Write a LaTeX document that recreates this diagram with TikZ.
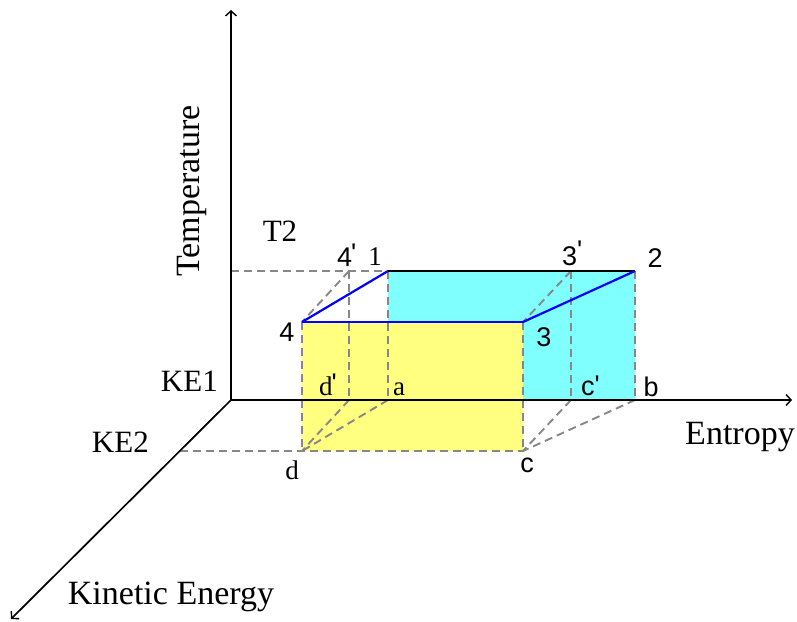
\documentclass[tikz,border=0pt]{standalone}
\usepackage{fontspec}
\setmainfont{Liberation Serif}
\newfontfamily\lsans{Liberation Sans}
\usetikzlibrary{arrows.meta}
\definecolor{cyanfill}{RGB}{128,255,255}
\definecolor{yelfill}{RGB}{255,255,128}
\definecolor{dashgray}{RGB}{135,135,135}
\newcommand\primemark[2]{\kern#1\raisebox{#2}{\lsans\char"0027}}
\begin{document}
\begin{tikzpicture}[x=1pt,y=-1pt,
  axis/.style={line width=1.7pt,-{Straight Barb[length=5pt,width=11pt,line width=1.4pt]}},
  dsh/.style={draw=dashgray,line width=1.9pt,dash pattern=on 8pt off 5pt},
  blu/.style={draw=blue,line width=2.2pt},
  edge12/.style={draw=black,line width=2.2pt},
  big/.style={inner sep=0pt,font=\fontsize{34}{36}\selectfont},
  mid/.style={inner sep=0pt,font=\fontsize{31}{34}\selectfont},
  pser/.style={inner sep=0pt,font=\fontsize{27}{30}\selectfont},
  psan/.style={inner sep=0pt,font=\lsans\fontsize{27}{30}\selectfont}]
\useasboundingbox (0,0) rectangle (797,621);
% coordinates
\coordinate (O) at (231,400);
\coordinate (Ty) at (231,10);
\coordinate (Ex) at (792,400);
\coordinate (Kx) at (11,619);
\coordinate (P1) at (388,271);
\coordinate (P2) at (635,271);
\coordinate (P3) at (523,322);
\coordinate (P4) at (302,322);
\coordinate (Pa) at (388,400);
\coordinate (Pb) at (635,400);
\coordinate (Pc) at (523,451);
\coordinate (Pd) at (302,451);
\coordinate (P4p) at (349,271);
\coordinate (P3p) at (571,271);
\coordinate (Pdp) at (349,400);
\coordinate (Pcp) at (571,400);
\coordinate (T2c) at (231,271);
\coordinate (K2c) at (180,451);
% fills
\fill[cyanfill] (P1) rectangle (Pb);
\fill[yelfill] (P4) rectangle (Pc);
% dashed guide lines
\draw[dsh] (T2c) -- (P1);
\draw[dsh] (K2c) -- (Pc);
\draw[dsh] (P4) -- (Pd);
\draw[dsh] (P3) -- (Pc);
\draw[dsh] (P1) -- (Pa);
\draw[dsh] (P2) -- (Pb);
\draw[dsh] (P4p) -- (Pdp);
\draw[dsh] (P3p) -- (Pcp);
\draw[dsh] (P4p) -- (P4);
\draw[dsh] (P3p) -- (P3);
\draw[dsh] (Pdp) -- (Pd);
\draw[dsh] (Pa) -- (Pd);
\draw[dsh] (Pcp) -- (Pc);
\draw[dsh] (Pb) -- (Pc);
% axes
\draw[axis] (O) -- (Ty);
\draw[axis] (O) -- (Ex);
\draw[axis] (O) -- (Kx);
% solid edges
\draw[edge12] (P1) -- (P2);
\draw[blu] (P4) -- (P1);
\draw[blu] (P4) -- (P3);
\draw[blu] (P3) -- (P2);
% labels
\node[big,rotate=90] (temp) at (192,191) {Temperature};
\node[big] (entropy) at (740,437) {Entropy};
\node[big] (kin) at (171,597) {Kinetic Energy};
\node[mid] (t2) at (280,231) {T2};
\node[mid,anchor=east] (ke1) at (218,381) {KE1};
\node[mid,anchor=east] (ke2) at (149,442) {KE2};
\node[psan,anchor=base west] (l4p) at (337,266) {4\primemark{-1pt}{4pt}};
\node[pser] (l1) at (375,257) {1};
\node[psan,anchor=base west] (l3p) at (562,265) {3\primemark{0pt}{6pt}};
\node[psan] (l2) at (655,258) {2};
\node[psan] (l4) at (287,332) {4};
\node[psan] (l3) at (544,337) {3};
\node[pser,anchor=base west] (ldp) at (319,395) {d\primemark{-1pt}{3pt}};
\node[pser] (la) at (399,389) {a};
\node[psan,anchor=base west] (lcp) at (581,395) {c\primemark{0pt}{1pt}};
\node[psan] (lb) at (651,387) {b};
\node[pser] (ld) at (292,470) {d};
\node[psan] (lc) at (527,465) {c};
\end{tikzpicture}
\end{document}
